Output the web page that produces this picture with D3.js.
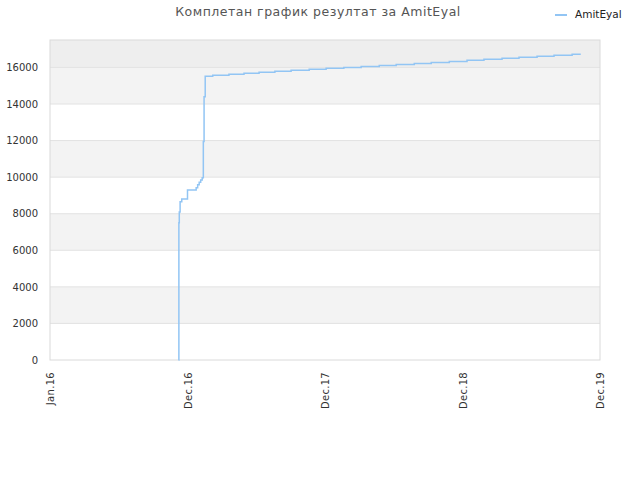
<!DOCTYPE html>
<html>
<head>
<meta charset="utf-8">
<script src="https://cdn.jsdelivr.net/npm/d3@7"></script>
<style>
  body { margin: 0; background: #fff; }
  svg { font-family: "DejaVu Sans", sans-serif; }
</style>
</head>
<body>
<div id="chart"></div>
<script>
// dates at which the score changed, and the score from that date on
var dates = [
  "2016-11-09", "2016-11-10", "2016-11-11", "2016-11-13", "2016-11-17", "2016-12-01",
  "2016-12-24", "2016-12-28", "2017-01-01", "2017-01-05", "2017-01-09",
  "2017-01-12", "2017-01-14", "2017-01-17",
  "2017-02-06", "2017-03-21", "2017-04-30", "2017-06-09", "2017-07-21", "2017-09-02",
  "2017-10-20", "2017-12-04", "2018-01-20", "2018-03-07", "2018-04-24", "2018-06-08",
  "2018-07-26", "2018-09-09", "2018-10-27", "2018-12-13", "2019-01-27", "2019-03-16",
  "2019-04-30", "2019-06-17", "2019-08-01", "2019-09-18", "2019-10-11"
];
var scores = [
  0, 7500, 8100, 8650, 8800, 9300,
  9420, 9580, 9720, 9850, 9970,
  11950, 14400, 15520,
  15577, 15632, 15687, 15741, 15790, 15845,
  15900, 15950, 16000, 16054, 16109, 16164,
  16218, 16273, 16328, 16390, 16453, 16508,
  16563, 16618, 16672, 16727, 16727
];

// x axis labels and the dates they sit on
var tickDates = ["2016-01-01", "2016-12-01", "2017-12-01", "2018-12-01", "2019-12-01"];
var tickLabels = ["Jan.16", "Dec.16", "Dec.17", "Dec.18", "Dec.19"];
var yTicks = [0, 2000, 4000, 6000, 8000, 10000, 12000, 14000, 16000];
var yMax = 17500;

var seriesName = "AmitEyal";
var title = "Комплетан график резултат за AmitEyal";

var parse = d3.timeParse("%Y-%m-%d");
var data = dates.map(function(d, i) { return { date: parse(d), value: scores[i] }; });

var width = 640, height = 480;
var margin = {top: 40, right: 40, bottom: 120, left: 50},
  w = width - margin.left - margin.right,
  h = height - margin.top - margin.bottom;

var svg = d3.select("#chart")
  .append("svg")
    .attr("width", width)
    .attr("height", height);

// title
svg.append("text")
  .attr("x", 318)
  .attr("y", 16)
  .attr("text-anchor", "middle")
  .style("font-size", "12.5px")
  .style("letter-spacing", "0.5px")
  .style("fill", "#555")
  .text(title);

// legend
svg.append("line")
  .attr("x1", 555).attr("x2", 567)
  .attr("y1", 15).attr("y2", 15)
  .style("stroke", "#92c5f4")
  .style("stroke-width", 2);
svg.append("text")
  .attr("x", 575)
  .attr("y", 18)
  .style("font-size", "10.5px")
  .style("fill", "#222")
  .text(seriesName);

var g = svg.append("g")
  .attr("transform", "translate(" + margin.left + "," + margin.top + ")");

// x scale: labels are evenly spaced, so map each label date to an equal slot
var tickX = tickDates.map(parse);
var x = d3.scaleTime()
  .domain(tickX)
  .range(tickX.map(function(d, i) { return i * w / (tickX.length - 1); }));

var y = d3.scaleLinear()
  .domain([0, yMax])
  .range([h, 0]);

// alternating bands
var bands = yTicks.map(function(t, i) {
  var top = i < yTicks.length - 1 ? yTicks[i + 1] : yMax;
  return { lo: t, hi: top, i: i };
});
g.selectAll(".band")
  .data(bands)
  .enter()
  .append("rect")
    .attr("x", 0)
    .attr("width", w)
    .attr("y", function(d) { return y(d.hi); })
    .attr("height", function(d) { return y(d.lo) - y(d.hi); })
    .attr("fill", function(d) {
      if (d.i === yTicks.length - 1) return "#eeeeee";
      return d.i % 2 === 1 ? "#f3f3f3" : "#ffffff";
    });

// grid lines
g.selectAll(".grid")
  .data(yTicks.slice(1))
  .enter()
  .append("line")
    .attr("x1", 0).attr("x2", w)
    .attr("y1", function(d) { return y(d); })
    .attr("y2", function(d) { return y(d); })
    .style("stroke", "#e2e2e2")
    .style("stroke-width", 1);

// border
g.append("rect")
  .attr("x", 0).attr("y", 0)
  .attr("width", w).attr("height", h)
  .attr("fill", "none")
  .style("stroke", "#dadada");

// Y axis
var yAxis = g.append("g")
  .call(d3.axisLeft(y).tickValues(yTicks).tickSize(0).tickPadding(12).tickFormat(d3.format("d")));
yAxis.select(".domain").remove();
yAxis.selectAll("text")
  .style("font-family", "DejaVu Sans, sans-serif")
  .style("font-size", "10px")
  .style("fill", "#333");

// X axis
var xAxis = g.append("g")
  .attr("transform", "translate(0," + h + ")")
  .call(d3.axisBottom(x).tickValues(tickX).tickSize(0)
    .tickFormat(function(d, i) { return tickLabels[i]; }));
xAxis.select(".domain").remove();
xAxis.selectAll("text")
  .attr("transform", "translate(0,12)rotate(-90)")
  .attr("x", 0)
  .attr("y", 0)
  .attr("dy", "0.35em")
  .style("text-anchor", "end")
  .style("font-family", "DejaVu Sans, sans-serif")
  .style("font-size", "10px")
  .style("letter-spacing", "0.3px")
  .style("fill", "#333");

// score line
var line = d3.line()
  .x(function(d) { return x(d.date); })
  .y(function(d) { return y(d.value); })
  .curve(d3.curveStepAfter);

g.append("path")
  .datum(data)
  .attr("d", line)
  .attr("fill", "none")
  .style("stroke", "#92c5f4")
  .style("stroke-width", 1.5);
</script>
</body>
</html>
